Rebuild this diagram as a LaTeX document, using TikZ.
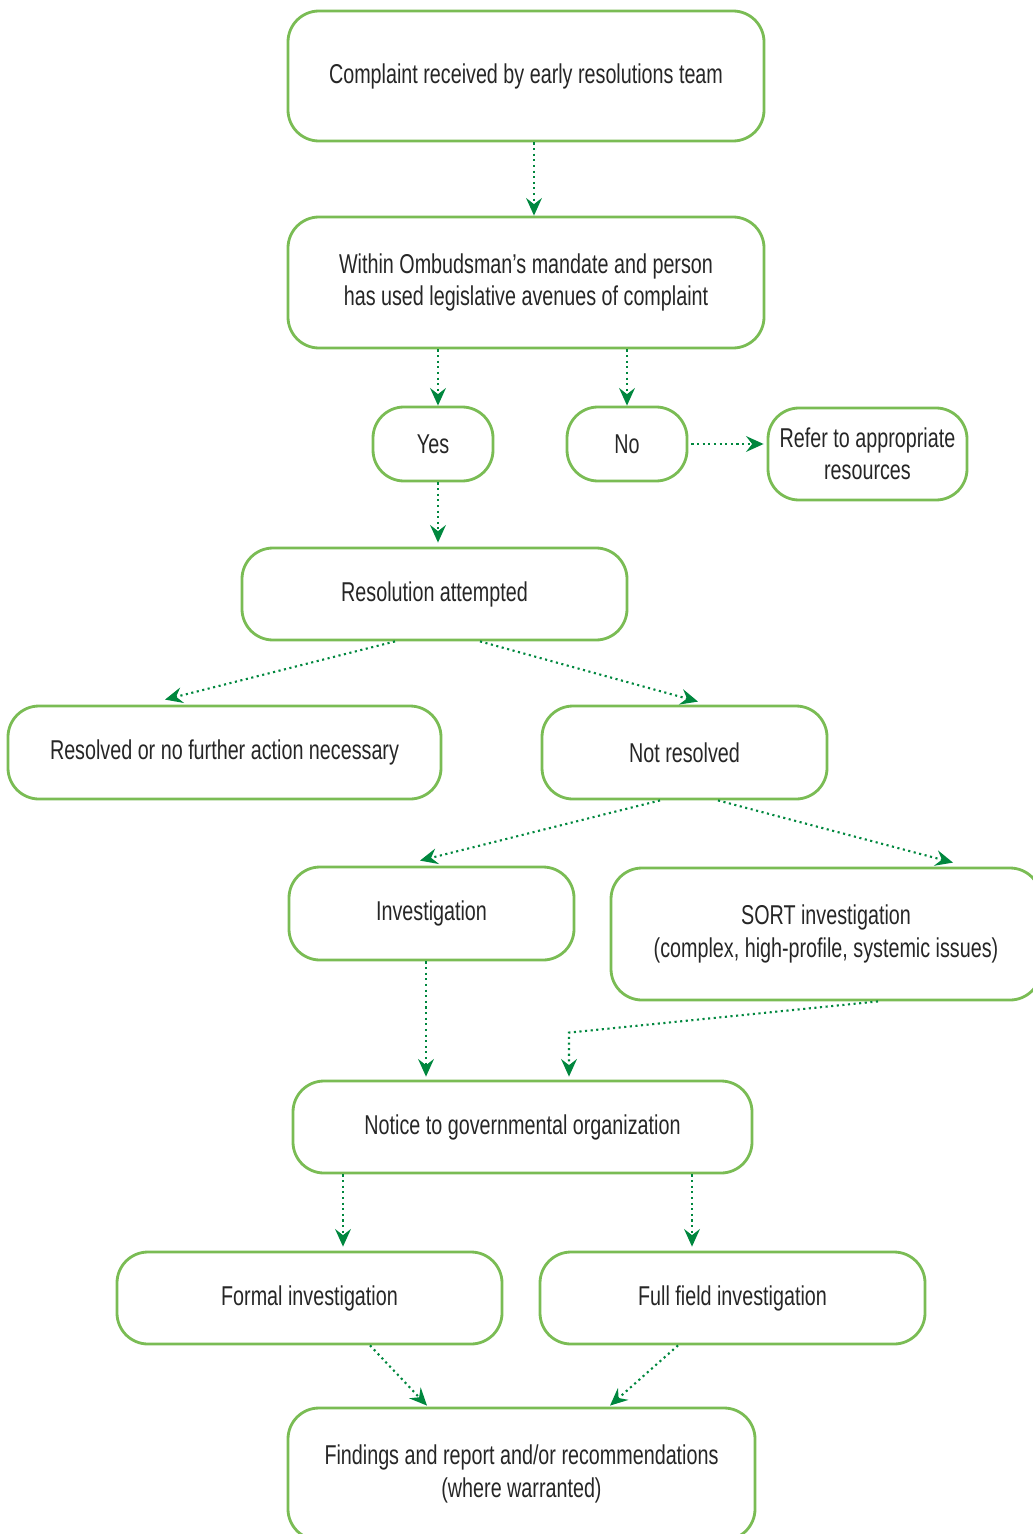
\documentclass[tikz,border=0pt]{standalone}
\usepackage{fontspec}
\setmainfont[FakeStretch=0.725]{Liberation Sans}
\usepackage{xcolor}
\usepackage{tikz}
\usetikzlibrary{positioning, arrows.meta, calc}

\definecolor{boxgreen}{RGB}{122,188,84}
\definecolor{arrowgreen}{RGB}{0,135,62}

\begin{document}
\begin{tikzpicture}[
        x=0.02cm, y=-0.02cm,
        % Style for the rounded boxes
        box/.style={
            draw=boxgreen,
            line width=1.6pt,
            rounded corners=0.62cm,
            align=center,
            text=black!85,
            font=\fontsize{15.5}{18.5}\selectfont,
            inner sep=0pt
        },
        % Style for the dotted connectors
        flow/.style={
            draw=arrowgreen,
            line width=1.2pt,
            dotted,
            -{Stealth[length=10pt, width=9pt, inset=3.5pt]}
        }
    ]

    \useasboundingbox (0,0) rectangle (1033,1534);

    % ==========================================
    % INTAKE
    % ==========================================
    \node[box, minimum width=476*0.02cm, minimum height=130*0.02cm] (complaint) at (526,76)
        {Complaint received by early resolutions team};
    \node[box, minimum width=476*0.02cm, minimum height=131*0.02cm] (mandate) at (526,282.5)
        {Within Ombudsman's mandate and person\\has used legislative avenues of complaint};
    \node[box, minimum width=120*0.02cm, minimum height=74*0.02cm] (yes) at (433,444) {Yes};
    \node[box, minimum width=120*0.02cm, minimum height=74*0.02cm] (no) at (627,444) {No};
    \node[box, minimum width=199*0.02cm, minimum height=92*0.02cm] (refer) at (867.5,454)
        {Refer to appropriate\\resources};

    % ==========================================
    % RESOLUTION
    % ==========================================
    \node[box, minimum width=385*0.02cm, minimum height=92*0.02cm] (attempt) at (434.5,594)
        {Resolution attempted};
    \node[box, minimum width=433*0.02cm, minimum height=93*0.02cm] (resolved) at (224.5,752.5)
        {Resolved or no further action necessary};
    \node[box, minimum width=285*0.02cm, minimum height=93*0.02cm] (notres) at (684.5,752.5)
        {Not resolved};

    % ==========================================
    % INVESTIGATION
    % ==========================================
    \node[box, minimum width=285*0.02cm, minimum height=93*0.02cm] (invest) at (431.5,913.5)
        {Investigation};
    \node[box, minimum width=430*0.02cm, minimum height=132*0.02cm] (sort) at (826,934)
        {SORT investigation\\(complex, high-profile, systemic issues)};
    \node[box, minimum width=459*0.02cm, minimum height=92*0.02cm] (notice) at (522.5,1127)
        {Notice to governmental organization};
    \node[box, minimum width=385*0.02cm, minimum height=92*0.02cm] (formal) at (309.5,1298)
        {Formal investigation};
    \node[box, minimum width=385*0.02cm, minimum height=92*0.02cm] (field) at (732.5,1298)
        {Full field investigation};
    \node[box, minimum width=467*0.02cm, minimum height=132*0.02cm] (findings) at (521.5,1474)
        {Findings and report and/or recommendations\\(where warranted)};

    % ==========================================
    % CONNECTORS
    % ==========================================
    \draw[flow] ([shift={(8,0)}]complaint.south) -- ([shift={(8,0)}]mandate.north);
    \draw[flow] ([shift={(5,0)}]mandate.south -| yes) -- ([shift={(5,0)}]yes.north);
    \draw[flow] (mandate.south -| no) -- (no.north);
    \draw[flow] ([shift={(3,0)}]no.east) -- ([shift={(-3,0)}]no.east -| refer.west);
    \draw[flow] ([shift={(5,0)}]yes.south) -- ([shift={(5,-4)}]yes.south |- attempt.north);

    % Left / right split after the attempt
    \draw[flow] ([shift={(-39.5,0)}]attempt.south) -- ([shift={(-59.5,-5)}]resolved.north);
    \draw[flow] ([shift={(45.5,0)}]attempt.south) -- ([shift={(13.5,-3)}]notres.north);
    \draw[flow] ([shift={(-24.5,0)}]notres.south) -- ([shift={(-11.5,-5)}]invest.north);
    \draw[flow] ([shift={(33.5,0)}]notres.south) -- ([shift={(127,-4)}]sort.north);

    % Both investigations lead to the notice
    \draw[flow] ([shift={(-5.5,0)}]invest.south) -- ([shift={(-96.5,-3)}]notice.north);
    \coordinate (bend) at ($(notice.north)+(46.5,-47)$);
    \draw[flow] ([shift={(52,0)}]sort.south) -- (bend) -- ([shift={(46.5,-3)}]notice.north);

    \draw[flow] ([shift={(-179.5,0)}]notice.south) -- ([shift={(-179.5,-4)}]notice.south |- formal.north);
    \draw[flow] ([shift={(169.5,0)}]notice.south) -- ([shift={(169.5,-4)}]notice.south |- field.north);

    \draw[flow] ([shift={(60.5,0)}]formal.south) -- ([shift={(-94.5,-1)}]findings.north);
    \draw[flow] ([shift={(-54.5,0)}]field.south) -- ([shift={(88.5,-1)}]findings.north);

\end{tikzpicture}
\end{document}
